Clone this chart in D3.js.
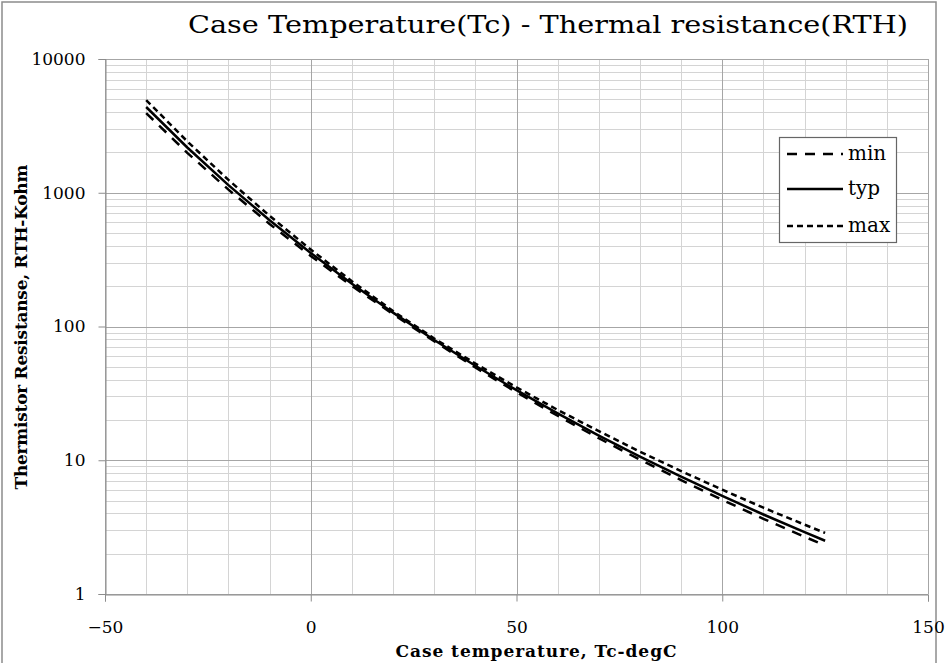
<!DOCTYPE html>
<html><head><meta charset="utf-8">
<script src="https://cdn.jsdelivr.net/npm/d3@7"></script>
<style>
html,body{margin:0;padding:0;background:#fff;}
svg{display:block;}
text{font-family:"DejaVu Serif","Liberation Serif",serif;fill:#000;}
</style></head>
<body><svg id="c" width="947" height="663"></svg>
<script>
// ---- data ----
const temps = [-40,-30,-20,-10,0,10,20,30,40,50,60,70,80,90,100,110,120,125];
const rMin  = [3945,1989,1055,584,337,201,123.6,77.5,49.4,32.2,21.5,14.6,10.1,7.10,5.06,3.65,2.68,2.30];
const rTyp  = [4377,2179,1140,623.5,354.6,208.8,126.9,79.3,50.9,33.4,22.4,15.3,10.66,7.54,5.41,3.93,2.90,2.50];
const rMax  = [4931,2421,1247,672,376,218,130.5,81.4,52.9,35.1,23.8,16.5,11.6,8.30,6.02,4.42,3.30,2.86];
const seriesNames = ["min","typ","max"];
const xTicks = [-50,0,50,100,150];
const yTicks = [1,10,100,1000,10000];
const titleText = "Case Temperature(Tc) - Thermal resistance(RTH)";
const xTitle = "Case temperature, Tc-degC";
const yTitle = "Thermistor Resistanse, RTH-Kohm";

// ---- layout ----
const svg = d3.select("#c");
const x = d3.scaleLinear().domain([-50,150]).range([105,928]);
const y = d3.scaleLog().domain([1,10000]).range([594,59]);

// outer border
svg.append("rect").attr("x",2).attr("y",2).attr("width",934).attr("height",670)
  .attr("fill","none").attr("stroke","#8c8c8c").attr("stroke-width",1.5);

// minor grid
const g = svg.append("g");
const xMinor = d3.range(-50,151,10);
xMinor.forEach(v=>{
  if (v%50!==0) g.append("line").attr("x1",Math.round(x(v))+0.5).attr("x2",Math.round(x(v))+0.5).attr("y1",y(10000)).attr("y2",y(1))
    .attr("stroke","#d4d4d4").attr("stroke-width",1);
});
const yMinor = [];
[1,10,100,1000].forEach(d=>{ for(let k=2;k<=9;k++) yMinor.push(d*k); });
yMinor.forEach(v=>{
  g.append("line").attr("x1",x(-50)).attr("x2",x(150)).attr("y1",Math.round(y(v))+0.5).attr("y2",Math.round(y(v))+0.5)
    .attr("stroke","#d4d4d4").attr("stroke-width",1);
});
// major grid
xTicks.forEach(v=>{
  g.append("line").attr("x1",Math.round(x(v))+0.5).attr("x2",Math.round(x(v))+0.5).attr("y1",y(10000)).attr("y2",y(1))
    .attr("stroke","#a6a6a6").attr("stroke-width",1);
});
yTicks.forEach(v=>{
  g.append("line").attr("x1",x(-50)).attr("x2",x(150)).attr("y1",Math.round(y(v))+0.5).attr("y2",Math.round(y(v))+0.5)
    .attr("stroke","#a6a6a6").attr("stroke-width",1);
});

// axes
const xAxis = d3.axisBottom(x).tickValues(xTicks).tickSize(7).tickPadding(19).tickFormat(d3.format("d"));
const yAxis = d3.axisLeft(y).tickValues(yTicks).tickSize(7).tickPadding(13).tickFormat(d3.format("d"));
const gx = svg.append("g").attr("transform",`translate(0,${Math.round(y(1))+0.5})`).call(xAxis);
const gy = svg.append("g").attr("transform",`translate(${Math.round(x(-50))+0.5},0)`).call(yAxis);
[gx,gy].forEach(a=>{
  a.select(".domain").attr("stroke","#8c8c8c");
  a.selectAll(".tick line").attr("stroke","#8c8c8c");
  a.selectAll(".tick text").attr("font-size",17).attr("font-family","DejaVu Serif").attr("fill","#000");
});

// lines
const line = d3.line().x((d,i)=>x(temps[i])).y(d=>y(d));
const styles = {min:"10,8", typ:null, max:"6,4"};
const data = {min:rMin, typ:rTyp, max:rMax};
seriesNames.forEach(n=>{
  const p = svg.append("path").datum(data[n]).attr("d",line)
    .attr("fill","none").attr("stroke","#000").attr("stroke-width",2.5);
  if (styles[n]) p.attr("stroke-dasharray",styles[n]);
});

// legend
const lg = svg.append("g");
lg.append("rect").attr("x",779.5).attr("y",137.5).attr("width",117).attr("height",105)
  .attr("fill","#fff").attr("stroke","#666").attr("stroke-width",1.2);
const ly = [154,189,226];
seriesNames.forEach((n,i)=>{
  const l = lg.append("line").attr("x1",787).attr("x2",843).attr("y1",ly[i]).attr("y2",ly[i])
    .attr("stroke","#000").attr("stroke-width",2.5);
  if (styles[n]) l.attr("stroke-dasharray",styles[n]);
  lg.append("text").attr("x",848).attr("y",ly[i]).attr("dy","0.32em").attr("font-size",20).text(n);
});

// titles
svg.append("text").attr("x",548).attr("y",33).attr("text-anchor","middle").attr("font-size",25)
  .attr("textLength",720).attr("lengthAdjust","spacingAndGlyphs").text(titleText);
svg.append("text").attr("x",536).attr("y",657).attr("text-anchor","middle").attr("font-size",17)
  .attr("font-weight","bold").attr("textLength",281).attr("lengthAdjust","spacing").text(xTitle);
svg.append("text").attr("transform","translate(27,327) rotate(-90)").attr("text-anchor","middle")
  .attr("font-size",17).attr("font-weight","bold").attr("textLength",325).attr("lengthAdjust","spacing").text(yTitle);
</script></body></html>
